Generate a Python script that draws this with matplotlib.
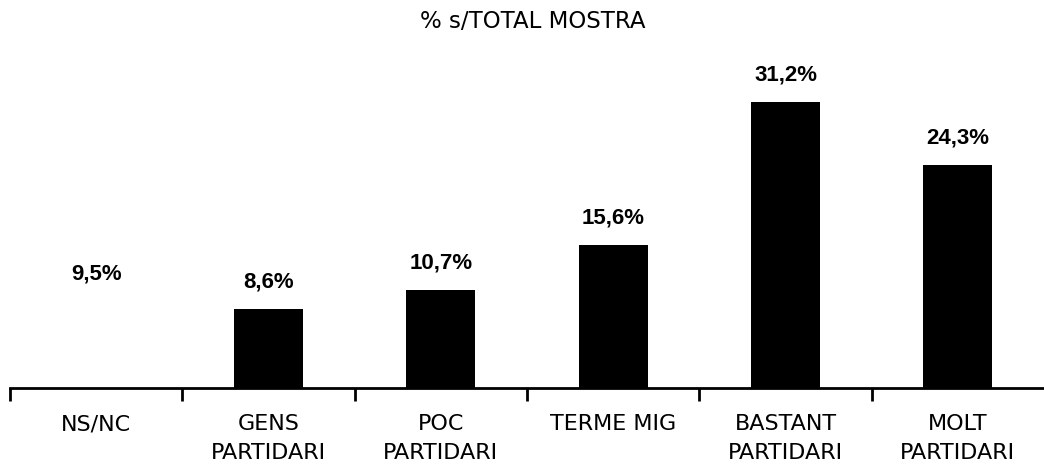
import matplotlib
matplotlib.use("Agg")
import matplotlib.pyplot as plt

categories = ["NS/NC", "GENS\nPARTIDARI", "POC\nPARTIDARI", "TERME MIG", "BASTANT\nPARTIDARI", "MOLT\nPARTIDARI"]
values = [9.5, 8.6, 10.7, 15.6, 31.2, 24.3]
labels = ["9,5%", "8,6%", "10,7%", "15,6%", "31,2%", "24,3%"]
colors = ["white", "black", "black", "black", "black", "black"]

W, H = 1044, 475
figure = plt.figure(figsize=(W / 100, H / 100), dpi=100)
axes = figure.add_axes([10 / W, 1 - 388 / H, 1 - 10 / W, (388 - 60) / H])

x = list(range(len(categories)))
axes.bar(x, values, width=0.4, color=colors, edgecolor="none")
for xi, v, lab in zip(x, values, labels):
    axes.annotate(lab, (xi, v), xytext=(0, 12), textcoords="offset points",
                  ha="center", va="bottom", fontsize=16, fontweight="bold",
                  family="Liberation Sans")

axes.set_xlim(-0.5, len(categories) - 0.5)
axes.set_ylim(0, 35.77)
for side in ["top", "right", "left"]:
    axes.spines[side].set_visible(False)
axes.spines["bottom"].set_linewidth(2)
axes.set_yticks([])
axes.set_xticks([i - 0.5 for i in range(len(categories))])
axes.set_xticklabels([])
axes.set_xticks(x, minor=True)
axes.set_xticklabels(categories, minor=True, fontsize=16, linespacing=1.55)
axes.tick_params(axis="x", which="major", length=9, width=2, direction="out")
axes.tick_params(axis="x", which="minor", length=0, pad=19)

figure.text(533 / W, 1 - 22 / H, "% s/TOTAL MOSTRA", ha="center", va="center", fontsize=16.5)
figure.savefig("out.png", dpi=100)
